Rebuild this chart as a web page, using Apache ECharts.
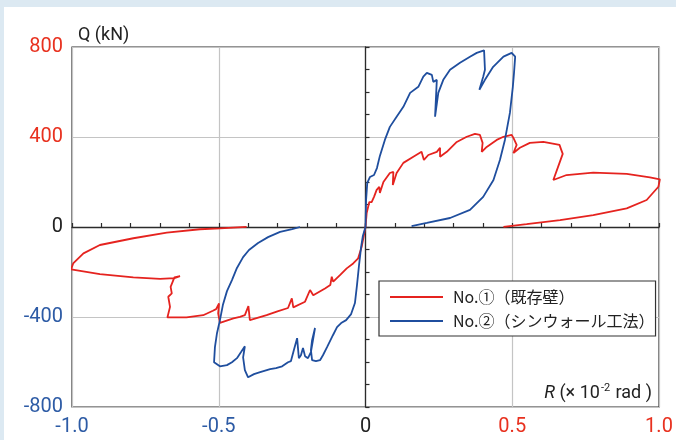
<!DOCTYPE html>
<html>
<head>
<meta charset="utf-8">
<script src="https://cdn.jsdelivr.net/npm/echarts@6/dist/echarts.min.js"></script>
<style>
html,body{margin:0;padding:0;width:676px;height:440px;background:#dce9f2;overflow:hidden;}
#chart{position:absolute;left:4px;top:7px;width:672px;height:433px;background:#ffffff;}
</style>
</head>
<body>
<div id="chart"></div>
<script>
// Axis ticks / labels
const xTicks = [-1.0, -0.5, 0, 0.5, 1.0];
const yTicks = [-800, -400, 0, 400, 800];
const seriesNames = ['No.①（既存壁）', 'No.②（シンウォール工法）'];

// No.① (existing wall) — positive loading loop [R, Q]
const red1Pos = [
  [0,0],[0.004,62],[0.013,111],[0.021,111],[0.029,134],[0.038,165],[0.047,178],[0.049,151],
  [0.061,200],[0.083,240],[0.095,245],[0.093,187],[0.106,240],[0.129,285],[0.163,312],
  [0.191,334],[0.199,298],[0.214,320],[0.243,334],[0.254,352],[0.254,312],[0.277,334],
  [0.311,378],[0.345,401],[0.373,414],[0.390,409],[0.399,374],[0.396,334],[0.413,356],
  [0.447,387],[0.470,401],[0.498,409],[0.504,396],[0.515,365],[0.504,329],[0.526,352],
  [0.560,374],[0.606,378],[0.661,365],[0.667,343],[0.672,325],[0.661,285],[0.640,209],
  [0.685,231],[0.776,242],[0.890,236],[0.969,221],[1.003,212],[0.998,179],[0.958,120],
  [0.890,83],[0.776,53],[0.663,31],[0.549,13],[0.470,1]
];
// No.① negative loading loop
const red1Neg = [
  [0,0],[-0.013,-88],[-0.025,-139],[-0.042,-162],[-0.064,-184],[-0.087,-214],[-0.110,-243],
  [-0.115,-221],[-0.120,-258],[-0.138,-273],[-0.178,-303],[-0.189,-280],[-0.206,-332],
  [-0.246,-357],[-0.251,-317],[-0.264,-360],[-0.300,-375],[-0.337,-392],[-0.394,-414],
  [-0.399,-352],[-0.411,-392],[-0.428,-399],[-0.450,-406],[-0.496,-426],[-0.502,-384],
  [-0.499,-340],[-0.509,-365],[-0.520,-372],[-0.553,-392],[-0.610,-402],[-0.675,-402],
  [-0.666,-355],[-0.672,-310],[-0.660,-295],[-0.664,-266],[-0.651,-224],[-0.632,-218],
  [-0.651,-227],[-0.700,-231],[-0.791,-224],[-0.905,-209],[-1.003,-188],[-0.996,-162],
  [-0.961,-117],[-0.905,-80],[-0.791,-50],[-0.677,-25],[-0.564,-10],[-0.496,-6],[-0.405,1]
];
// No.② (thin-wall method) — positive loading loop
const blue2Pos = [
  [0,0],[0.002,120],[0.006,196],[0.015,222],[0.029,231],[0.039,262],[0.049,316],[0.066,387],
  [0.083,445],[0.106,490],[0.129,534],[0.152,596],[0.180,623],[0.197,668],[0.209,685],
  [0.226,676],[0.231,645],[0.243,654],[0.237,490],[0.248,596],[0.265,654],[0.288,699],
  [0.322,730],[0.356,757],[0.379,774],[0.404,785],[0.407,699],[0.401,668],[0.388,610],
  [0.407,654],[0.435,712],[0.470,757],[0.498,774],[0.510,757],[0.506,685],[0.502,623],
  [0.492,507],[0.475,387],[0.458,298],[0.436,209],[0.401,134],[0.356,76],[0.288,40],
  [0.209,18],[0.157,4]
];
// No.② negative loading loop
const blue2Neg = [
  [0,0],[-0.009,-40],[-0.015,-89],[-0.022,-169],[-0.029,-258],[-0.036,-338],[-0.049,-387],
  [-0.066,-414],[-0.083,-427],[-0.097,-445],[-0.111,-481],[-0.131,-534],[-0.145,-570],
  [-0.155,-592],[-0.169,-596],[-0.182,-592],[-0.186,-547],[-0.182,-503],[-0.172,-449],
  [-0.179,-503],[-0.186,-556],[-0.196,-583],[-0.206,-574],[-0.213,-538],[-0.220,-570],
  [-0.227,-583],[-0.233,-494],[-0.244,-547],[-0.254,-596],[-0.264,-601],[-0.284,-619],
  [-0.305,-627],[-0.325,-632],[-0.359,-645],[-0.380,-654],[-0.400,-668],[-0.411,-636],
  [-0.417,-579],[-0.411,-530],[-0.424,-556],[-0.438,-583],[-0.455,-601],[-0.472,-614],
  [-0.496,-619],[-0.516,-601],[-0.513,-534],[-0.506,-472],[-0.496,-414],[-0.486,-347],
  [-0.472,-285],[-0.455,-236],[-0.438,-182],[-0.417,-134],[-0.397,-102],[-0.366,-71],
  [-0.332,-45],[-0.291,-22],[-0.250,-9],[-0.223,0]
];

const RED = '#e5231f';
const BLUE = '#1f4e9e';
const RED_T = '#e8311f';
const BLUE_T = '#2d5ba5';
const numFont = 'Roboto, "Liberation Sans", sans-serif';
const jpFont = '"Noto Sans CJK JP", sans-serif';

function colorFor(v) { return v > 0 ? RED_T : (v < 0 ? BLUE_T : '#222'); }

const chart = echarts.init(document.getElementById('chart'), null, {renderer: 'canvas'});
const lineCommon = {type: 'line', symbol: 'none', showSymbol: false, clip: false, animation: false};

chart.setOption({
  animation: false,
  grid: {left: 68, top: 40, width: 587, height: 360, show: true, borderColor: '#2b2b2b', borderWidth: 1.2, backgroundColor: 'transparent'},
  xAxis: [
    {type: 'value', position: 'bottom', min: xTicks[0], max: xTicks[xTicks.length - 1], interval: 0.5,
     axisLine: {show: false, onZero: false}, axisTick: {show: false},
     axisLabel: {margin: 10, fontSize: 20, fontFamily: numFont,
       formatter: v => (v === 0 ? '0' : v.toFixed(1)), color: v => colorFor(v)},
     splitLine: {show: true, lineStyle: {color: '#c4c4c4', width: 1.2}}},
    {type: 'value', position: 'top', min: -1, max: 1, interval: 0.1,
     axisLine: {show: true, onZero: true, onZeroAxisIndex: 0, lineStyle: {color: '#2b2b2b', width: 1.3}},
     axisTick: {show: true, inside: false, length: 4, lineStyle: {color: '#2b2b2b', width: 1.2}},
     axisLabel: {show: false}, splitLine: {show: false}}
  ],
  yAxis: [
    {type: 'value', position: 'left', min: yTicks[0], max: yTicks[yTicks.length - 1], interval: 400,
     axisLine: {show: false, onZero: false}, axisTick: {show: false},
     axisLabel: {margin: 9, fontSize: 20, fontFamily: numFont, color: v => colorFor(v)},
     splitLine: {show: true, lineStyle: {color: '#c4c4c4', width: 1.2}}},
    {type: 'value', position: 'right', min: -800, max: 800, interval: 100,
     axisLine: {show: true, onZero: true, onZeroAxisIndex: 0, lineStyle: {color: '#2b2b2b', width: 1.3}},
     axisTick: {show: true, inside: false, length: 4, lineStyle: {color: '#2b2b2b', width: 1.2}},
     axisLabel: {show: false}, splitLine: {show: false}}
  ],
  legend: {
    orient: 'vertical', left: 375, top: 274,
    data: seriesNames,
    icon: 'rect',
    itemWidth: 53, itemHeight: 2, itemGap: 4,
    padding: [6, 1, 5, 11],
    borderColor: '#333', borderWidth: 1.2, borderRadius: 0, backgroundColor: '#fff',
    textStyle: {fontSize: 16, fontFamily: jpFont, color: '#222', lineHeight: 20, padding: [0, 0, 0, 5]}
  },
  graphic: [
    {type: 'text', left: 74, top: 19, style: {text: 'Q (kN)', font: '18px ' + numFont, fill: '#222'}},
    {type: 'text', right: 24, top: 376, style: {
      text: '{i|R} (× 10{s|-2} rad )', font: '18px ' + numFont, fill: '#222',
      rich: {i: {fontStyle: 'italic', fontSize: 18, fontFamily: numFont, fill: '#222'},
             s: {fontSize: 11, fontFamily: numFont, verticalAlign: 'top', padding: [0, 1, 9, 1], fill: '#222'}}
    }}
  ],
  series: [
    Object.assign({}, lineCommon, {name: seriesNames[0], data: red1Pos, color: RED, lineStyle: {color: RED, width: 1.8}, z: 3}),
    Object.assign({}, lineCommon, {name: seriesNames[0], data: red1Neg, color: RED, lineStyle: {color: RED, width: 1.8}, z: 3}),
    Object.assign({}, lineCommon, {name: seriesNames[1], data: blue2Pos, color: BLUE, lineStyle: {color: BLUE, width: 1.8}, z: 4}),
    Object.assign({}, lineCommon, {name: seriesNames[1], data: blue2Neg, color: BLUE, lineStyle: {color: BLUE, width: 1.8}, z: 4})
  ]
});
</script>
</body>
</html>
